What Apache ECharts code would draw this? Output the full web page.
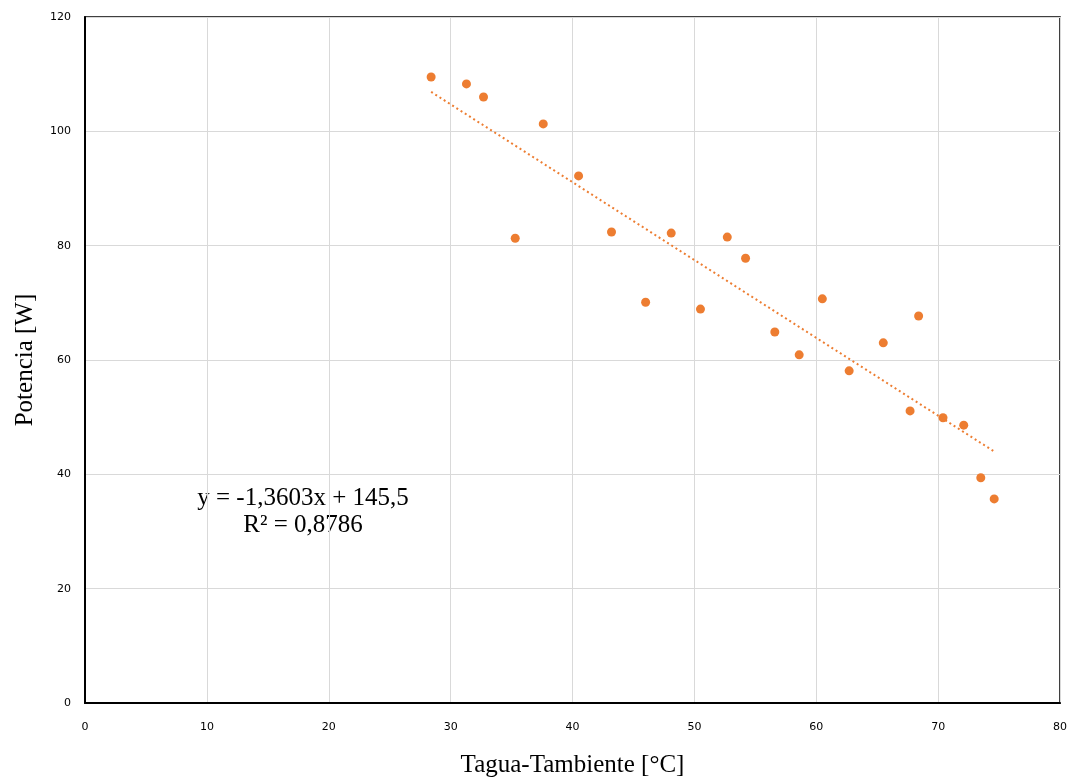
<!DOCTYPE html>
<html><head><meta charset="utf-8">
<script src="https://cdn.jsdelivr.net/npm/echarts@6/dist/echarts.min.js"></script>
<style>html,body{margin:0;padding:0;background:#fff}#c{width:1074px;height:780px}</style>
</head><body><div id="c"></div>
<script>
const xValues = [28.4, 31.3, 32.7, 35.3, 37.6, 40.5, 43.2, 46.0, 48.1, 50.5, 52.7, 54.2, 56.6, 58.6, 60.5, 62.7, 65.5, 67.7, 68.4, 70.4, 72.1, 73.5, 74.6];
const yValues = [109.5, 108.3, 106.0, 81.3, 101.3, 92.2, 82.4, 70.1, 82.2, 68.9, 81.5, 77.8, 64.9, 60.9, 70.7, 58.1, 63.0, 51.1, 67.7, 49.9, 48.6, 39.4, 35.7];
const trendX = [28.4, 74.6];
const trendY = [106.9, 44.0];
const xTicks = [0, 10, 20, 30, 40, 50, 60, 70, 80];
const yTicks = [0, 20, 40, 60, 80, 100, 120];
const equationLines = ['y = -1,3603x + 145,5', 'R² = 0,8786'];

const points = xValues.map((x, i) => [x, yValues[i]]);
const trend = trendX.map((x, i) => [x, trendY[i]]);

const chart = echarts.init(document.getElementById('c'));
chart.setOption({
  animation: false,
  grid: { left: 85, right: 14, top: 17, bottom: 77, show: true, borderColor: '#000', borderWidth: 1.5, containLabel: false, outerBoundsMode: 'none' },
  xAxis: {
    type: 'value', min: xTicks[0], max: xTicks[xTicks.length - 1], interval: 10,
    name: 'Tagua-Tambiente [°C]', nameLocation: 'middle', nameGap: 50,
    nameTextStyle: { fontFamily: 'Liberation Serif', fontSize: 25, color: '#000' },
    axisLine: { lineStyle: { color: '#000', width: 2 } },
    axisTick: { show: false },
    axisLabel: { fontFamily: 'DejaVu Sans', fontSize: 11, color: '#000', margin: 19 },
    splitLine: { lineStyle: { color: '#d9d9d9', width: 1 } }
  },
  yAxis: {
    type: 'value', min: yTicks[0], max: yTicks[yTicks.length - 1], interval: 20,
    name: 'Potencia [W]', nameLocation: 'middle', nameGap: 47,
    nameTextStyle: { fontFamily: 'Liberation Serif', fontSize: 25, color: '#000' },
    axisLine: { lineStyle: { color: '#000', width: 2 } },
    axisTick: { show: false },
    axisLabel: { fontFamily: 'DejaVu Sans', fontSize: 11, color: '#000', margin: 14 },
    splitLine: { lineStyle: { color: '#d9d9d9', width: 1 } }
  },
  series: [
    {
      type: 'line', data: trend, symbol: 'none', silent: true,
      lineStyle: { color: '#ED7D31', width: 2, type: [2, 3] }, z: 1
    },
    {
      type: 'scatter', data: points, symbol: 'circle', symbolSize: 9,
      itemStyle: { color: '#ED7D31', opacity: 1 }, z: 2
    }
  ],
  graphic: [{
    type: 'text', x: 303, y: 485,
    style: { text: equationLines.join('\n'), fontFamily: 'Liberation Serif', fontSize: 25, fill: '#000', align: 'center', lineHeight: 27 }
  }]
});
</script></body></html>
